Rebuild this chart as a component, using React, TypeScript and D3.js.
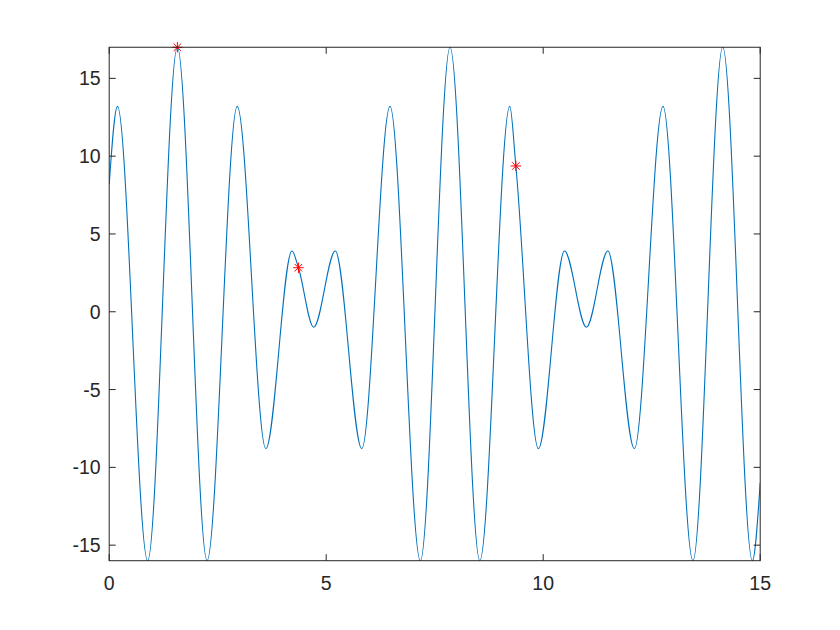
import React from "react";
import * as d3 from "d3";

// Curve samples (local extrema, two on-curve marker spots, and the ends)
const curveX = [
  0, 0.19, 0.887, 1.571, 2.255, 2.95, 3.61, 4.21, 4.36, 4.712, 5.21, 5.82,
  6.47, 7.17, 7.854, 8.54, 9.23, 9.37, 9.89, 10.49, 10.996, 11.49, 12.1,
  12.76, 13.45, 14.137, 14.82, 15,
];
const curveY = [
  8.2, 13.2, -16, 17, -16, 13.2, -8.8, 3.9, 2.83, -1.0, 3.9, -8.8,
  13.2, -16, 17, -16, 13.2, 9.37, -8.8, 3.9, -1.0, 3.9, -8.8,
  13.2, -16, 17, -16, -11,
];

// Red asterisk markers
const markX = [1.571, 4.36, 9.37];
const markY = [17, 2.83, 9.37];

const xTicks = [0, 5, 10, 15];
const yTicks = [-15, -10, -5, 0, 5, 10, 15];

const W = 840;
const H = 630;
const left = 109.2;
const right = 760.2;
const top = 47.25;
const bottom = 560.7;

export default function App() {
  const x = d3.scaleLinear().domain([0, 15]).range([left, right]);
  const y = d3.scaleLinear().domain([-16, 17]).range([bottom, top]);
  const pts: [number, number][] = curveX.map((v, i) => [v, curveY[i]]);
  const line = d3
    .line<[number, number]>()
    .x((d) => x(d[0]))
    .y((d) => y(d[1]))
    .curve(d3.curveMonotoneX);
  const axisColor = "#262626";
  const tickLen = 6.5;
  const font = "'Liberation Sans', Arial, Helvetica, sans-serif";
  const ms = 5.2;
  return (
    <svg
      width={W}
      height={H}
      style={{ position: "absolute", left: 0, top: 0, background: "#fff" }}
    >
      <rect x={0} y={0} width={W} height={H} fill="#ffffff" />
      <defs>
        <clipPath id="plotClip">
          <rect x={left} y={top - 1} width={right - left} height={bottom - top + 2} />
        </clipPath>
      </defs>
      <path
        d={line(pts) || ""}
        fill="none"
        stroke="#0072BD"
        strokeWidth={1.1}
        clipPath="url(#plotClip)"
      />
      {markX.map((mx, i) => {
        const cx = x(mx);
        const cy = y(markY[i]);
        const d = ms * 0.72;
        return (
          <g key={i} stroke="#FF0000" strokeWidth={1}>
            <line x1={cx - ms} y1={cy} x2={cx + ms} y2={cy} />
            <line x1={cx} y1={cy - ms} x2={cx} y2={cy + ms} />
            <line x1={cx - d} y1={cy - d} x2={cx + d} y2={cy + d} />
            <line x1={cx - d} y1={cy + d} x2={cx + d} y2={cy - d} />
          </g>
        );
      })}
      {/* box */}
      <rect
        x={left}
        y={top}
        width={right - left}
        height={bottom - top}
        fill="none"
        stroke={axisColor}
        strokeWidth={1}
      />
      {xTicks.map((t) => (
        <g key={"x" + t}>
          <line x1={x(t)} x2={x(t)} y1={bottom} y2={bottom - tickLen} stroke={axisColor} />
          <line x1={x(t)} x2={x(t)} y1={top} y2={top + tickLen} stroke={axisColor} />
          <text
            x={x(t)}
            y={590}
            textAnchor="middle"
            fontFamily={font}
            fontSize={19.5}
            fill={axisColor}
          >
            {t}
          </text>
        </g>
      ))}
      {yTicks.map((t) => (
        <g key={"y" + t}>
          <line x1={left} x2={left + tickLen} y1={y(t)} y2={y(t)} stroke={axisColor} />
          <line x1={right} x2={right - tickLen} y1={y(t)} y2={y(t)} stroke={axisColor} />
          <text
            x={left - 8.5}
            y={y(t) + 7}
            textAnchor="end"
            fontFamily={font}
            fontSize={19.5}
            fill={axisColor}
          >
            {t}
          </text>
        </g>
      ))}
    </svg>
  );
}
